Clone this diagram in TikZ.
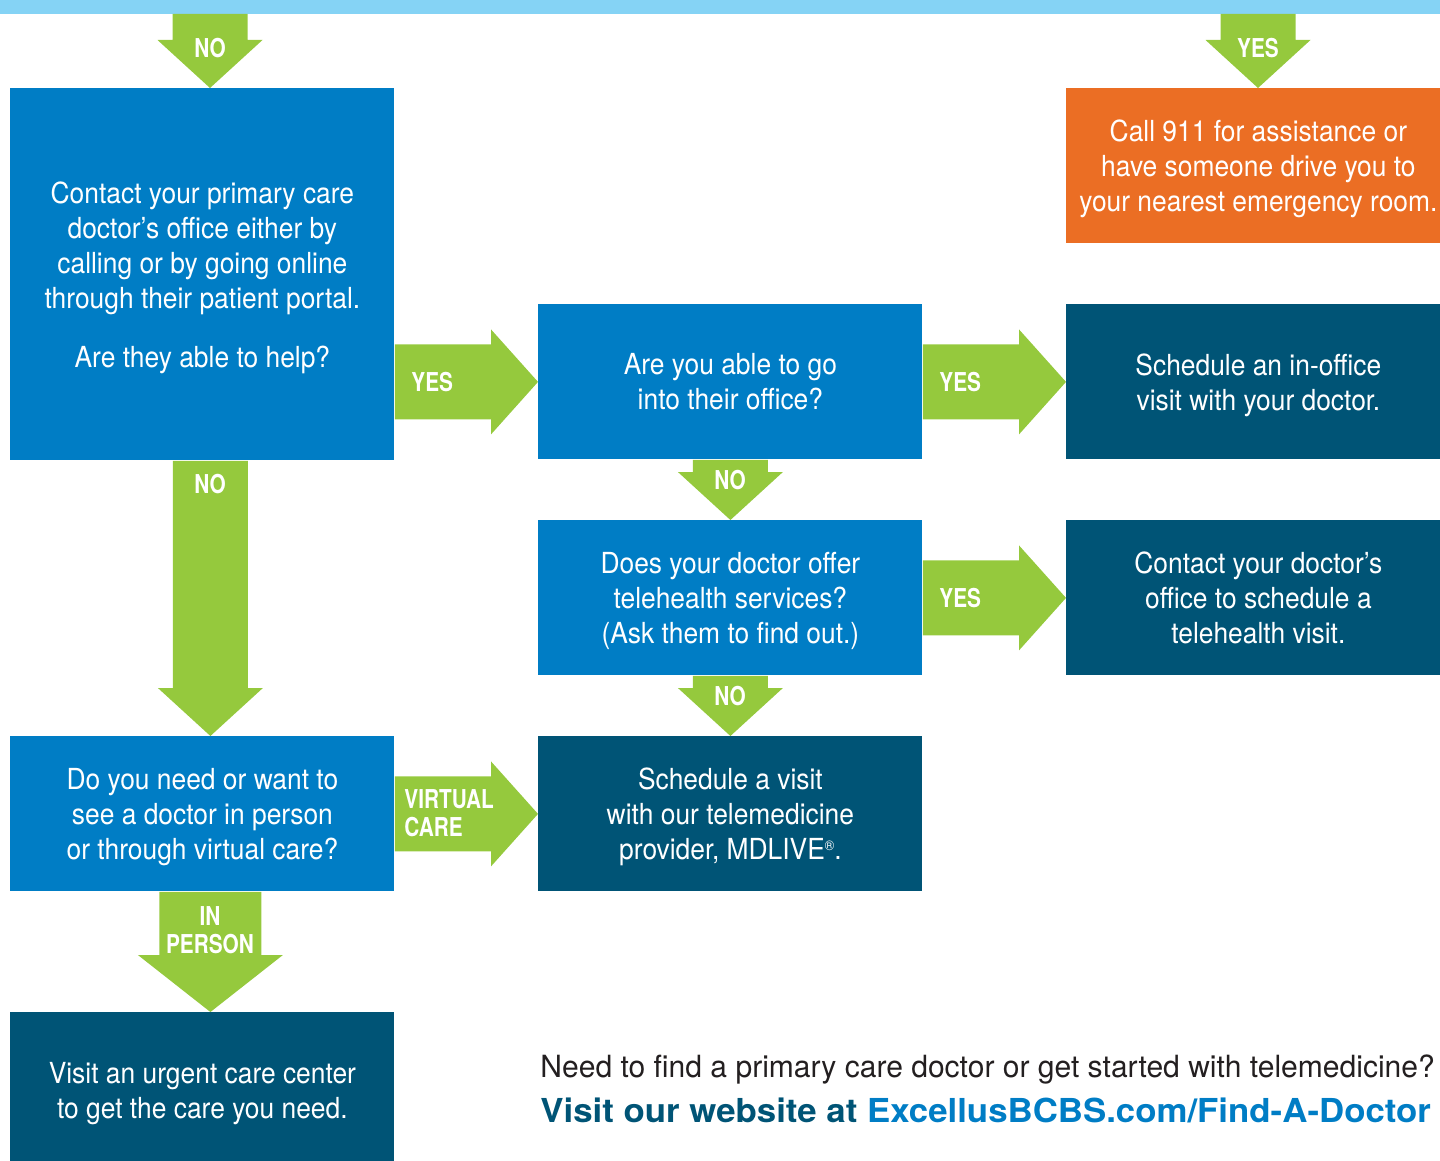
\documentclass[tikz,border=0pt]{standalone}
\usepackage{fontspec}
\setmainfont{TeX Gyre Heros}[FakeStretch=0.91]
\newfontfamily\tagfont{TeX Gyre Heros}[FakeStretch=0.8]
\newfontfamily\footfont{TeX Gyre Heros}[FakeStretch=0.982]
\newfontfamily\webfont{TeX Gyre Heros}[FakeStretch=1.055]
\usetikzlibrary{calc}

\definecolor{skyblue}{HTML}{85D3F5}
\definecolor{midblue}{HTML}{007DC5}
\definecolor{deepblue}{HTML}{005476}
\definecolor{leafgreen}{HTML}{95C93D}
\definecolor{alertorange}{HTML}{EB6E24}
\definecolor{inkgray}{HTML}{231F20}

\newcommand{\regmark}{\raisebox{0.6ex}{\fontsize{7}{7}\selectfont\textregistered}}

\tikzset{
  box/.style={anchor=north west, inner sep=0pt, minimum width=192pt,
    minimum height=77.5pt, align=center, text=white, text depth=0pt,
    font=\fontsize{14.5}{17.5}\selectfont},
  ask/.style={box, fill=midblue},
  act/.style={box, fill=deepblue},
  tag/.style={text=white, inner sep=0pt,
    font=\tagfont\bfseries\fontsize{13}{14}\selectfont},
  % block arrows: shaft half width, head half width, head length
  darrow/.style n args={3}{to path={let \p1=(\tikztostart), \p2=(\tikztotarget) in
    (\x1-#1,\y1) -- (\x1-#1,\y2+#3) -- (\x1-#2,\y2+#3) -- (\x1,\y2)
    -- (\x1+#2,\y2+#3) -- (\x1+#1,\y2+#3) -- (\x1+#1,\y1) -- cycle}},
  dnarrow/.style={darrow={18.75pt}{26.25pt}{24pt}},
  widearrow/.style={darrow={25.5pt}{36.25pt}{28.5pt}},
  rarrow/.style={to path={let \p1=(\tikztostart), \p2=(\tikztotarget) in
    (\x1,\y2-18.75pt) -- (\x2-23.5pt,\y2-18.75pt) -- (\x2-23.5pt,\y2-26.25pt)
    -- (\x2,\y2) -- (\x2-23.5pt,\y2+26.25pt) -- (\x2-23.5pt,\y2+18.75pt)
    -- (\x1,\y2+18.75pt) -- cycle}},
}

\begin{document}
\begin{tikzpicture}[x=0.5pt, y=-0.5pt]
  \useasboundingbox (0,0) rectangle (1440,1161);
  \clip (0,0) rectangle (1440,1161);

  \fill[skyblue] (0,0) rectangle (1440,14);
  \coordinate (nofeed) at (210,14);
  \coordinate (yesfeed) at (1258,14);

  % questions
  \node[ask, minimum height=186pt] (contact) at (10,88)
    {Contact your primary care\\ doctor’s office either by\\ calling or by going online\\
     through their patient portal.\\[12pt] Are they able to help?};
  \node[ask] (office) at (538,304) {Are you able to go\\ into their office?};
  \node[ask] (tele) at (538,520)
    {Does your doctor offer\\ telehealth services?\\ (Ask them to find out.)};
  \node[ask] (need) at (10,736)
    {Do you need or want to\\ see a doctor in person\\ or through virtual care?};

  % answers
  \node[box, fill=alertorange] (call) at (1066,88)
    {Call 911 for assistance or\\ have someone drive you to\\ your nearest emergency room.};
  \node[act] (inoffice) at (1066,304) {Schedule an in-office\\ visit with your doctor.};
  \node[act] (televisit) at (1066,520)
    {Contact your doctor’s\\ office to schedule a\\ telehealth visit.};
  \node[act] (mdlive) at (538,736)
    {Schedule a visit\\ with our telemedicine\\ provider, MDLIVE\regmark.};
  \node[act, minimum height=78pt] (urgent) at (10,1012)
    {Visit an urgent care center\\ to get the care you need.};

  % arrows
  \fill[leafgreen] (nofeed) to[dnarrow] (contact.north);
  \fill[leafgreen] (yesfeed) to[dnarrow] (call.north);
  \fill[leafgreen] ([xshift=4pt]contact.south) to[dnarrow] (need.north);
  \fill[leafgreen] (office.south) to[dnarrow] (tele.north);
  \fill[leafgreen] (tele.south) to[dnarrow] (mdlive.north);
  \fill[leafgreen] ([xshift=4pt]need.south) to[widearrow] (urgent.north);
  \fill[leafgreen] (contact.east) to[rarrow] (office.west);
  \fill[leafgreen] (office.east) to[rarrow] (inoffice.west);
  \fill[leafgreen] (tele.east) to[rarrow] (televisit.west);
  \fill[leafgreen] (need.east) to[rarrow] (mdlive.west);

  \node[tag] (tno1) at (210,48) {NO};
  \node[tag] (tyes1) at (1258,48) {YES};
  \node[tag, anchor=west] (tyes2) at (411,382) {YES};
  \node[tag, anchor=west] (tyes3) at (939,382) {YES};
  \node[tag, anchor=west] (tyes4) at (939,598) {YES};
  \node[tag] (tno2) at (210,484) {NO};
  \node[tag] (tno3) at (730,480) {NO};
  \node[tag] (tno4) at (730,696) {NO};
  \node[tag, anchor=west, align=left] (tvirtual) at (404,813) {VIRTUAL\\CARE};
  \node[tag, align=center] (tperson) at (210,930) {IN\\PERSON};

  \node[anchor=base west, inner sep=0pt, text=inkgray,
    font=\footfont\fontsize{15.3}{18}\selectfont] (question) at (540,1077)
    {Need to find a primary care doctor or get started with telemedicine?};
  \node[anchor=base west, inner sep=0pt,
    font=\webfont\bfseries\fontsize{16.5}{19}\selectfont] (website) at (540,1122)
    {\textcolor{deepblue}{Visit our website at} \textcolor{midblue}{ExcellusBCBS.com/Find-A-Doctor}};
\end{tikzpicture}
\end{document}
